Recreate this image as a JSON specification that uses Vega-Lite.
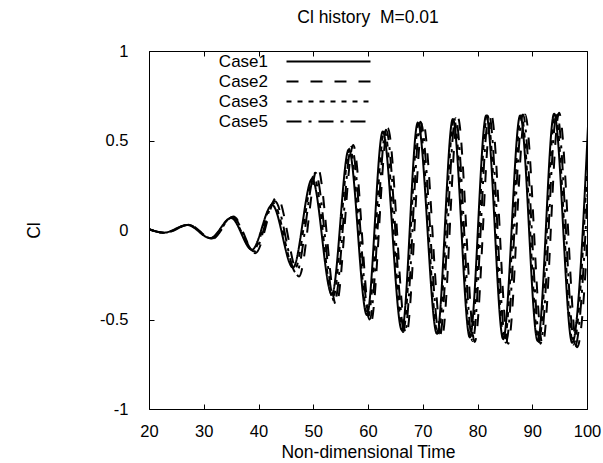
{
  "$schema": "https://vega.github.io/schema/vega-lite/v6.json",
  "width": 438,
  "height": 358,
  "autosize": {"type": "none"},
  "padding": {"left": 149, "top": 51, "right": 16, "bottom": 54},
  "background": "white",
  "title": {"text": "Cl history\u00a0 M=0.01", "anchor": "middle", "fontSize": 17.5, "fontWeight": "normal", "font": "Liberation Sans", "color": "black", "offset": 17},
  "config": {
    "font": "Liberation Sans",
    "view": {"stroke": "black", "strokeWidth": 1},
    "axis": {"domain": false, "ticks": false, "grid": true, "gridColor": "black", "gridOpacity": 1, "gridWidth": 1, "labelFlush": false, "labelOverlap": false, "labelColor": "black", "titleColor": "black", "labelFontSize": 16.5, "titleFontSize": 17.5, "titleFontWeight": "normal", "labelFont": "Liberation Sans", "titleFont": "Liberation Sans"}
  },
  "data": {"values": [
    {"case": "Case1", "t": 20.0, "cl": 0.005},
    {"case": "Case1", "t": 22.7, "cl": -0.015},
    {"case": "Case1", "t": 27.0, "cl": 0.028},
    {"case": "Case1", "t": 31.2, "cl": -0.045},
    {"case": "Case1", "t": 35.0, "cl": 0.067},
    {"case": "Case1", "t": 38.8, "cl": -0.11},
    {"case": "Case1", "t": 42.5, "cl": 0.14},
    {"case": "Case1", "t": 46.3, "cl": -0.21},
    {"case": "Case1", "t": 49.8, "cl": 0.285},
    {"case": "Case1", "t": 53.4, "cl": -0.36},
    {"case": "Case1", "t": 56.5, "cl": 0.45},
    {"case": "Case1", "t": 59.8, "cl": -0.475},
    {"case": "Case1", "t": 62.7, "cl": 0.55},
    {"case": "Case1", "t": 66.2, "cl": -0.56},
    {"case": "Case1", "t": 69.1, "cl": 0.6},
    {"case": "Case1", "t": 72.6, "cl": -0.58},
    {"case": "Case1", "t": 75.5, "cl": 0.62},
    {"case": "Case1", "t": 78.6, "cl": -0.6},
    {"case": "Case1", "t": 81.6, "cl": 0.64},
    {"case": "Case1", "t": 84.7, "cl": -0.61},
    {"case": "Case1", "t": 87.8, "cl": 0.64},
    {"case": "Case1", "t": 91.0, "cl": -0.62},
    {"case": "Case1", "t": 94.0, "cl": 0.65},
    {"case": "Case1", "t": 97.3, "cl": -0.63},
    {"case": "Case1", "t": 100.3, "cl": 0.655},
    {"case": "Case2", "t": 20.0, "cl": 0.005},
    {"case": "Case2", "t": 23.0, "cl": -0.016},
    {"case": "Case2", "t": 27.3, "cl": 0.03},
    {"case": "Case2", "t": 31.5, "cl": -0.05},
    {"case": "Case2", "t": 35.4, "cl": 0.075},
    {"case": "Case2", "t": 39.4, "cl": -0.13},
    {"case": "Case2", "t": 43.4, "cl": 0.185},
    {"case": "Case2", "t": 47.4, "cl": -0.26},
    {"case": "Case2", "t": 50.8, "cl": 0.35},
    {"case": "Case2", "t": 54.2, "cl": -0.42},
    {"case": "Case2", "t": 57.3, "cl": 0.475},
    {"case": "Case2", "t": 60.5, "cl": -0.52},
    {"case": "Case2", "t": 63.6, "cl": 0.57},
    {"case": "Case2", "t": 67.0, "cl": -0.585},
    {"case": "Case2", "t": 70.0, "cl": 0.61},
    {"case": "Case2", "t": 73.5, "cl": -0.6},
    {"case": "Case2", "t": 76.4, "cl": 0.63},
    {"case": "Case2", "t": 79.5, "cl": -0.625},
    {"case": "Case2", "t": 82.5, "cl": 0.645},
    {"case": "Case2", "t": 85.6, "cl": -0.635},
    {"case": "Case2", "t": 88.7, "cl": 0.645},
    {"case": "Case2", "t": 91.9, "cl": -0.64},
    {"case": "Case2", "t": 94.9, "cl": 0.655},
    {"case": "Case2", "t": 98.2, "cl": -0.655},
    {"case": "Case2", "t": 101.2, "cl": 0.66},
    {"case": "Case3", "t": 20.0, "cl": 0.005},
    {"case": "Case3", "t": 22.8, "cl": -0.015},
    {"case": "Case3", "t": 27.1, "cl": 0.028},
    {"case": "Case3", "t": 31.3, "cl": -0.046},
    {"case": "Case3", "t": 35.1, "cl": 0.068},
    {"case": "Case3", "t": 39.0, "cl": -0.115},
    {"case": "Case3", "t": 42.7, "cl": 0.15},
    {"case": "Case3", "t": 46.6, "cl": -0.22},
    {"case": "Case3", "t": 50.1, "cl": 0.3},
    {"case": "Case3", "t": 53.6, "cl": -0.38},
    {"case": "Case3", "t": 56.7, "cl": 0.455},
    {"case": "Case3", "t": 60.0, "cl": -0.485},
    {"case": "Case3", "t": 63.0, "cl": 0.555},
    {"case": "Case3", "t": 66.4, "cl": -0.57},
    {"case": "Case3", "t": 69.3, "cl": 0.6},
    {"case": "Case3", "t": 72.8, "cl": -0.585},
    {"case": "Case3", "t": 75.7, "cl": 0.62},
    {"case": "Case3", "t": 78.8, "cl": -0.61},
    {"case": "Case3", "t": 81.8, "cl": 0.64},
    {"case": "Case3", "t": 84.9, "cl": -0.62},
    {"case": "Case3", "t": 88.0, "cl": 0.64},
    {"case": "Case3", "t": 91.2, "cl": -0.625},
    {"case": "Case3", "t": 94.2, "cl": 0.65},
    {"case": "Case3", "t": 97.5, "cl": -0.64},
    {"case": "Case3", "t": 100.5, "cl": 0.655},
    {"case": "Case5", "t": 20.0, "cl": 0.005},
    {"case": "Case5", "t": 22.9, "cl": -0.016},
    {"case": "Case5", "t": 27.2, "cl": 0.029},
    {"case": "Case5", "t": 31.4, "cl": -0.048},
    {"case": "Case5", "t": 35.3, "cl": 0.072},
    {"case": "Case5", "t": 39.2, "cl": -0.12},
    {"case": "Case5", "t": 43.0, "cl": 0.16},
    {"case": "Case5", "t": 46.9, "cl": -0.24},
    {"case": "Case5", "t": 50.4, "cl": 0.32},
    {"case": "Case5", "t": 53.9, "cl": -0.4},
    {"case": "Case5", "t": 57.0, "cl": 0.465},
    {"case": "Case5", "t": 60.3, "cl": -0.5},
    {"case": "Case5", "t": 63.3, "cl": 0.56},
    {"case": "Case5", "t": 66.7, "cl": -0.575},
    {"case": "Case5", "t": 69.6, "cl": 0.605},
    {"case": "Case5", "t": 73.1, "cl": -0.595},
    {"case": "Case5", "t": 76.0, "cl": 0.625},
    {"case": "Case5", "t": 79.1, "cl": -0.62},
    {"case": "Case5", "t": 82.1, "cl": 0.645},
    {"case": "Case5", "t": 85.2, "cl": -0.63},
    {"case": "Case5", "t": 88.3, "cl": 0.645},
    {"case": "Case5", "t": 91.5, "cl": -0.635},
    {"case": "Case5", "t": 94.5, "cl": 0.655},
    {"case": "Case5", "t": 97.8, "cl": -0.65},
    {"case": "Case5", "t": 100.8, "cl": 0.66}
  ]},
  "mark": {"type": "line", "interpolate": "monotone", "color": "black", "strokeWidth": 2, "clip": true},
  "encoding": {
    "x": {"field": "t", "type": "quantitative", "scale": {"domain": [20, 100], "nice": false, "zero": false},
          "axis": {"orient": "bottom", "values": [20, 30, 40, 50, 60, 70, 80, 90, 100], "title": "Non-dimensional Time",
                   "gridDash": [5, 348, 5, 1000], "labelPadding": 14, "titlePadding": 4}},
    "y": {"field": "cl", "type": "quantitative", "scale": {"domain": [-1, 1], "nice": false, "zero": false},
          "axis": {"orient": "left", "values": [-1, -0.5, 0, 0.5, 1], "title": "Cl", "labelExpr": "'' + datum.value",
                   "gridDash": [5, 428, 5, 1000], "labelPadding": 21, "titlePadding": 56}},
    "strokeDash": {"field": "case", "type": "nominal",
      "scale": {"domain": ["Case1", "Case2", "Case3", "Case5"], "range": [[1, 0], [12, 12], [5, 6], [15, 7, 3, 7]]},
      "legend": {"orient": "none", "legendX": 57, "legendY": 2, "title": null, "padding": 0, "rowPadding": 2,
                 "symbolType": "M-8.4,0H8.4", "symbolSize": 100, "symbolStrokeWidth": 2, "symbolStrokeColor": "black",
                 "symbolOffset": 114, "labelOffset": -69, "labelAlign": "right", "labelFontSize": 17, "labelColor": "black", "labelFont": "Liberation Sans"}}
  }
}
